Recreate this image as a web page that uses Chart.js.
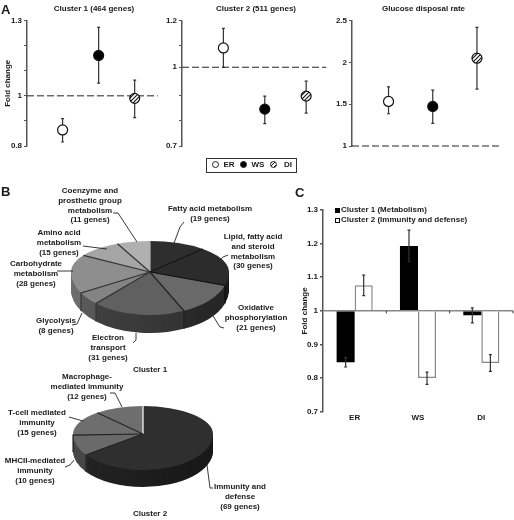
<!DOCTYPE html>
<html>
<head>
<meta charset="utf-8">
<title>Fold change by cluster</title>
<script src="https://cdn.jsdelivr.net/npm/chart.js@4/dist/chart.umd.js"></script>
<style>
    body { margin: 0; background: #fff; }
    #page { position: relative; width: 514px; height: 520px; overflow: hidden; font: bold 8px "Liberation Sans", Arial, sans-serif; color: #1a1a1a; }
    #page canvas, #page svg { position: absolute; }
    .txt { position: absolute; white-space: pre; text-align: center; line-height: 9.7px; transform: translateX(-50%); }
    .panel { position: absolute; font-size: 13px; line-height: 13px; }
    .legend-box { position: absolute; left: 206px; top: 158px; width: 89px; height: 13px; border: 1px solid #333; }
    .dot { position: absolute; width: 5px; height: 5px; border: 1px solid #222; border-radius: 50%; top: 3px; }
    .square { position: absolute; width: 3px; height: 3px; border: 1px solid #000; }
</style>
</head>
<body>
<div id="page"></div>
<script>
const groups = ['ER', 'WS', 'DI'];

// Panel A
const panelTitles = ['Cluster 1 (464 genes)', 'Cluster 2 (511 genes)', 'Glucose disposal rate'];
const groupX = [1, 2, 3];

const clusterOneMean = [0.864, 1.161, 0.99];
const clusterOneLow = [0.816, 1.051, 0.913];
const clusterOneHigh = [0.909, 1.273, 1.063];
const clusterOneTicks = [0.8, 0.9, 1, 1.1, 1.2, 1.3];
const clusterOneTickLabels = ['0.8', '', '1', '', '', '1.3'];

const clusterTwoMean = [1.091, 0.847, 0.899];
const clusterTwoLow = [1.014, 0.789, 0.831];
const clusterTwoHigh = [1.169, 0.899, 0.959];
const clusterTwoTicks = [0.7, 0.8, 0.9, 1.014, 1.1, 1.2];
const clusterTwoTickLabels = ['0.7', '', '', '1', '', '1.2'];

const glucoseMean = [1.533, 1.473, 2.05];
const glucoseLow = [1.386, 1.271, 1.68];
const glucoseHigh = [1.708, 1.668, 2.42];
const glucoseTicks = [1, 1.5, 2, 2.5];
const glucoseTickLabels = ['1', '1.5', '2', '2.5'];

// Panel B
const pieOneNames = [
    ['Fatty acid metabolism'],
    ['Lipid, fatty acid', 'and steroid', 'metabolism'],
    ['Oxidative', 'phosphorylation'],
    ['Electron', 'transport'],
    ['Glycolysis'],
    ['Carbohydrate', 'metabolism'],
    ['Amino acid', 'metabolism'],
    ['Coenzyme and', 'prosthetic group', 'metabolism'],
];
const pieOneGenes = [19, 30, 21, 31, 8, 28, 15, 11];

const pieTwoNames = [
    ['Immunity and', 'defense'],
    ['MHCII-mediated', 'immunity'],
    ['T-cell mediated', 'immunity'],
    ['Macrophage-', 'mediated immunity'],
];
const pieTwoGenes = [69, 10, 15, 12];

// Panel C
const barSeriesNames = ['Cluster 1 (Metabolism)', 'Cluster 2 (Immunity and defense)'];
const barClusterOne = [0.847, 1.193, 0.987];
const barClusterOneLow = [0.833, 1.146, 0.964];
const barClusterOneHigh = [0.861, 1.24, 1.009];
const barClusterTwo = [1.076, 0.80, 0.845];
const barClusterTwoLow = [1.045, 0.781, 0.82];
const barClusterTwoHigh = [1.106, 0.818, 0.87];
const barTicks = [0.7, 0.8, 0.9, 1, 1.1, 1.2, 1.3];
const barTickLabels = ['0.7', '0.8', '0.9', '1', '1.1', '1.2', '1.3'];

const FONT = { family: '"Liberation Sans", Arial, sans-serif', size: 8, weight: 'bold' };
const INK = '#1a1a1a';
const page = document.getElementById('page');

function addCanvas(left, top, width, height) {
    const canvas = document.createElement('canvas');
    canvas.width = width;
    canvas.height = height;
    canvas.style.left = left + 'px';
    canvas.style.top = top + 'px';
    page.appendChild(canvas);
    return canvas;
}

function addText(text, x, y, className) {
    const div = document.createElement('div');
    div.className = className || 'txt';
    div.textContent = text;
    div.style.left = x + 'px';
    div.style.top = (y - 4.85) + 'px';
    page.appendChild(div);
    return div;
}

function hatchPattern() {
    const tile = document.createElement('canvas');
    tile.width = 4;
    tile.height = 4;
    const c = tile.getContext('2d');
    c.fillStyle = '#fff';
    c.fillRect(0, 0, 4, 4);
    c.strokeStyle = '#111';
    c.lineWidth = 1.1;
    c.beginPath();
    c.moveTo(-1, 5); c.lineTo(5, -1);
    c.moveTo(-1, 1); c.lineTo(1, -1);
    c.moveTo(3, 5); c.lineTo(5, 3);
    c.stroke();
    return c.createPattern(tile, 'repeat');
}

// whiskers read dataset.errLow / errHigh, under the markers in scatter charts, over the bars otherwise
function drawWhiskers(chart) {
    const ctx = chart.ctx;
    const y = chart.scales.y;
    ctx.save();
    ctx.strokeStyle = '#333';
    ctx.lineWidth = 1.2;
    chart.data.datasets.forEach((ds, d) => {
        if (!ds.errLow) return;
        chart.getDatasetMeta(d).data.forEach((el, i) => {
            const top = y.getPixelForValue(ds.errHigh[i]);
            const bottom = y.getPixelForValue(ds.errLow[i]);
            ctx.beginPath();
            ctx.moveTo(el.x, top); ctx.lineTo(el.x, bottom);
            ctx.moveTo(el.x - 1.5, top); ctx.lineTo(el.x + 1.5, top);
            ctx.moveTo(el.x - 1.5, bottom); ctx.lineTo(el.x + 1.5, bottom);
            ctx.stroke();
        });
    });
    ctx.restore();
}

const whiskerPlugin = {
    id: 'whiskers',
    beforeDatasetsDraw(chart) {
        if (chart.config.type === 'scatter') drawWhiskers(chart);
    },
    afterDatasetsDraw(chart) {
        if (chart.config.type === 'bar') drawWhiskers(chart);
    },
};

function yAxis(ticks, labels, width, min, max, title) {
    return {
        min: min,
        max: max,
        afterBuildTicks: scale => { scale.ticks = ticks.map(v => ({ value: v })); },
        afterFit: scale => { scale.width = width; },
        border: { color: '#555', width: 1.5 },
        grid: { drawOnChartArea: false, tickLength: 3, tickColor: '#555', tickWidth: 1 },
        ticks: {
            autoSkip: false,
            font: FONT,
            color: INK,
            padding: 2,
            callback: (value, index) => labels[index],
        },
        title: {
            display: !!title,
            text: title,
            font: FONT,
            color: INK,
            padding: { top: 2.5, bottom: 0 },
        },
    };
}

function addScatter(opts) {
    const canvas = addCanvas(opts.left, 0, opts.width, 155);
    new Chart(canvas, {
        type: 'scatter',
        data: {
            datasets: [
                {
                    data: groupX.map((x, i) => ({ x: x, y: opts.mean[i] })),
                    errLow: opts.low,
                    errHigh: opts.high,
                    showLine: false,
                    pointRadius: 5,
                    pointBorderWidth: 1.2,
                    pointBorderColor: '#111',
                    pointBackgroundColor: ['#fff', '#000', hatchPattern()],
                },
                {
                    data: [{ x: opts.xMin, y: opts.ref }, { x: opts.dashEnd, y: opts.ref }],
                    showLine: true,
                    clip: false,
                    pointRadius: 0,
                    borderColor: '#222',
                    borderWidth: 1,
                    borderDash: [7, 3],
                },
            ],
        },
        options: {
            responsive: false,
            animation: false,
            layout: { padding: { bottom: 9 } },
            plugins: {
                legend: { display: false },
                tooltip: { enabled: false },
                title: {
                    display: true,
                    text: opts.title,
                    font: FONT,
                    color: INK,
                    padding: { top: 4, bottom: 7 },
                },
            },
            scales: {
                x: { type: 'linear', display: false, min: opts.xMin, max: opts.xMax },
                y: yAxis(opts.ticks, opts.tickLabels, opts.axisWidth, opts.ticks[0], opts.ticks[opts.ticks.length - 1], opts.axisTitle),
            },
        },
        plugins: [whiskerPlugin],
    });
}

addScatter({
    left: 0, width: 188, axisWidth: 27, xMin: 0.013, xMax: 4.307, dashEnd: 3.64, ref: 1,
    title: panelTitles[0], axisTitle: 'Fold change',
    mean: clusterOneMean, low: clusterOneLow, high: clusterOneHigh,
    ticks: clusterOneTicks, tickLabels: clusterOneTickLabels,
});
addScatter({
    left: 165, width: 182, axisWidth: 17, xMin: 0, xMax: 3.837, dashEnd: 3.488, ref: clusterTwoTicks[3],
    title: panelTitles[1],
    mean: clusterTwoMean, low: clusterTwoLow, high: clusterTwoHigh,
    ticks: clusterTwoTicks, tickLabels: clusterTwoTickLabels,
});
addScatter({
    left: 335, width: 177, axisWidth: 17, xMin: 0.174, xMax: 3.652, dashEnd: 3.5, ref: 1,
    title: panelTitles[2],
    mean: glucoseMean, low: glucoseLow, high: glucoseHigh,
    ticks: glucoseTicks, tickLabels: glucoseTickLabels,
});

// redraws the pie's arc elements as a tilted disc: back half flatter than the front, rim extruded below
const tiltPlugin = {
    id: 'tilt',
    beforeDatasetsDraw(chart, args, o) {
        const ctx = chart.ctx;
        const arcs = chart.getDatasetMeta(0).data;
        const cx = arcs[0].x;
        const cy = arcs[0].y;
        const r = arcs[0].outerRadius;

        // rim only shows below the widest line of the disc
        ctx.save();
        ctx.beginPath();
        ctx.rect(0, cy, chart.width, chart.height - cy);
        ctx.clip();
        for (let d = o.depth; d >= 1; d--) {
            arcs.forEach((arc, i) => {
                ctx.save();
                ctx.translate(cx, cy + d);
                ctx.scale(1, o.front);
                ctx.beginPath();
                ctx.moveTo(0, 0);
                ctx.arc(0, 0, r, arc.startAngle, arc.endAngle);
                ctx.closePath();
                ctx.fillStyle = o.sides[i];
                ctx.fill();
                ctx.restore();
            });
        }
        ctx.restore();

        // rim darkens to the right
        const shade = ctx.createLinearGradient(cx - r, 0, cx + r, 0);
        shade.addColorStop(0, 'rgba(0,0,0,0)');
        shade.addColorStop(1, 'rgba(0,0,0,0.35)');
        ctx.save();
        ctx.globalCompositeOperation = 'source-atop';
        ctx.fillStyle = shade;
        ctx.fillRect(0, 0, chart.width, chart.height);
        ctx.restore();

        // top face, one half at a time
        [[o.back, 0, cy], [o.front, cy, chart.height - cy]].forEach(part => {
            ctx.save();
            ctx.beginPath();
            ctx.rect(0, part[1], chart.width, part[2]);
            ctx.clip();
            ctx.translate(cx, cy);
            ctx.scale(1, part[0]);
            ctx.translate(-cx, -cy);
            arcs.forEach(arc => arc.draw(ctx));
            ctx.restore();
        });

        // seams between slices, carried down the rim on the front
        arcs.forEach((arc, i) => {
            const sin = Math.sin(arc.startAngle);
            const px = cx + r * Math.cos(arc.startAngle);
            const py = cy + r * sin * (sin > 0 ? o.front : o.back);
            ctx.beginPath();
            ctx.moveTo(cx, cy);
            ctx.lineTo(px, py);
            if (sin > 0) ctx.lineTo(px, py + o.depth);
            ctx.strokeStyle = o.seams[i];
            ctx.lineWidth = 1.2;
            ctx.stroke();
        });
        return false;
    },
};

function addPie(left, top, size, radius, back, front, depth, genes, names, fills, sides, seams) {
    const canvas = addCanvas(left, top, size, size);
    new Chart(canvas, {
        type: 'pie',
        data: {
            labels: names.map(lines => lines.join(' ')),
            datasets: [{ data: genes, backgroundColor: fills, borderWidth: 0, radius: radius }],
        },
        options: {
            responsive: false,
            animation: false,
            plugins: {
                legend: { display: false },
                tooltip: { enabled: false },
                tilt: { back: back, front: front, depth: depth, sides: sides, seams: seams },
            },
        },
        plugins: [tiltPlugin],
    });
}

addPie(50, 172, 200, 79, 31 / 79, 43 / 79, 18, pieOneGenes, pieOneNames,
    ['#2e2e2e', '#2c2c2c', '#696969', '#606060', '#848484', '#8e8e8e', '#a5a5a5', '#b0b0b0'],
    ['#2a2a2a', '#2a2a2a', '#383838', '#444', '#5c5c5c', '#6e6e6e', '#6e6e6e', '#6e6e6e'],
    ['#b0b0b0', '#111', '#111', '#222', '#333', '#333', '#333', '#333']);

addPie(63, 354, 160, 70, 28 / 70, 36 / 70, 17, pieTwoGenes, pieTwoNames,
    ['#2f2f2f', '#6a6a6a', '#6e6e6e', '#6e6e6e'],
    ['#242424', '#484848', '#484848', '#484848'],
    ['#fff', '#222', '#222', '#222']);

// where each slice label sits: centre x, first line y, same order as the slices
const pieOneLabelAt = [[210, 209], [253, 237], [256, 308], [108, 338], [56, 321], [36, 264], [59, 233], [90, 191]];
const pieTwoLabelAt = [[240, 487], [35, 461], [37, 413], [87, 377]];

pieOneNames.forEach((lines, i) => {
    addText(lines.concat('(' + pieOneGenes[i] + ' genes)').join('\n'), pieOneLabelAt[i][0], pieOneLabelAt[i][1]);
});
pieTwoNames.forEach((lines, i) => {
    addText(lines.concat('(' + pieTwoGenes[i] + ' genes)').join('\n'), pieTwoLabelAt[i][0], pieTwoLabelAt[i][1]);
});
addText('Cluster 1', 150, 370);
addText('Cluster 2', 150, 514);

// leader lines from the labels to the slices
const leaders = [
    '113,213 118,213 137,242', '184,222 180,227 174,243', '228,255 223,257 217,263',
    '224,328 220,327 213,316', '133,343 136,340 136,333', '72,325 77,324 82,313',
    '57,271 73,271', '83,246 107,249',
    '110,393 115,393 122,407', '69,417 83,421', '65,467 70,465 74,460', '213,488 210,488 207,465',
];
const svg = document.createElementNS('http://www.w3.org/2000/svg', 'svg');
svg.setAttribute('width', 514);
svg.setAttribute('height', 520);
svg.style.left = '0';
svg.style.top = '0';
leaders.forEach(points => {
    const line = document.createElementNS('http://www.w3.org/2000/svg', 'polyline');
    line.setAttribute('points', points);
    line.setAttribute('fill', 'none');
    line.setAttribute('stroke', '#222');
    line.setAttribute('stroke-width', '0.9');
    svg.appendChild(line);
});
page.appendChild(svg);

// Panel C
const axisTickPlugin = {
    id: 'axisTicks',
    afterDatasetsDraw(chart) {
        const ctx = chart.ctx;
        const x = chart.scales.x;
        const baseline = chart.scales.y.getPixelForValue(1);
        const step = x.getPixelForValue(1) - x.getPixelForValue(0);
        ctx.save();
        ctx.strokeStyle = '#333';
        ctx.lineWidth = 1;
        groups.forEach((g, i) => {
            const tx = x.getPixelForValue(i) + step / 2;
            ctx.beginPath();
            ctx.moveTo(tx, baseline);
            ctx.lineTo(tx, baseline + 2.5);
            ctx.stroke();
        });
        ctx.restore();
    },
};

const barY = yAxis(barTicks, barTickLabels, 26, 0.7, 1.3, 'Fold change');
barY.grid = {
    drawOnChartArea: true,
    tickLength: 3,
    tickColor: '#555',
    lineWidth: 1.5,
    color: ctx => (ctx.tick && ctx.tick.value === 1 ? '#888' : 'transparent'),
};

new Chart(addCanvas(297, 200, 217, 225), {
    type: 'bar',
    data: {
        labels: groups,
        datasets: [
            {
                label: barSeriesNames[0],
                data: barClusterOne,
                errLow: barClusterOneLow,
                errHigh: barClusterOneHigh,
                base: 1,
                backgroundColor: '#000',
                borderWidth: 0,
            },
            {
                label: barSeriesNames[1],
                data: barClusterTwo,
                errLow: barClusterTwoLow,
                errHigh: barClusterTwoHigh,
                base: 1,
                backgroundColor: '#fff',
                borderColor: '#888',
                borderWidth: 1.5,
            },
        ],
    },
    options: {
        responsive: false,
        animation: false,
        layout: { padding: { top: 10, right: 1, bottom: 0 } },
        datasets: { bar: { categoryPercentage: 0.57, barPercentage: 1 } },
        plugins: { legend: { display: false }, tooltip: { enabled: false } },
        scales: {
            x: {
                border: { display: false },
                grid: { display: false },
                afterFit: scale => { scale.height = 13.3; },
                ticks: { font: FONT, color: INK, padding: -7 },
            },
            y: barY,
        },
    },
    plugins: [whiskerPlugin, axisTickPlugin],
});

// legends and panel letters
const legendBox = document.createElement('div');
legendBox.className = 'legend-box';
page.appendChild(legendBox);
const legendFills = ['#fff', '#000', 'repeating-linear-gradient(135deg, #111 0 1px, #fff 1px 2.5px)'];
const legendDotAt = [[212, 161], [240, 161], [270, 161]];
const legendTextAt = [[229, 165], [258, 165], [288, 165]];
groups.forEach((g, i) => {
    const dot = document.createElement('div');
    dot.className = 'dot';
    dot.style.left = legendDotAt[i][0] + 'px';
    dot.style.top = legendDotAt[i][1] + 'px';
    dot.style.background = legendFills[i];
    page.appendChild(dot);
    addText(g, legendTextAt[i][0], legendTextAt[i][1]);
});

barSeriesNames.forEach((name, i) => {
    const square = document.createElement('div');
    square.className = 'square';
    square.style.left = '335px';
    square.style.top = (208 + i * 10) + 'px';
    square.style.background = i === 0 ? '#000' : '#fff';
    page.appendChild(square);
    const label = addText(name, 341, 210 + i * 10);
    label.style.transform = 'none';
});

addText('A', 1, 8, 'panel');
addText('B', 1, 190, 'panel');
addText('C', 295, 191, 'panel');
</script>
</body>
</html>
